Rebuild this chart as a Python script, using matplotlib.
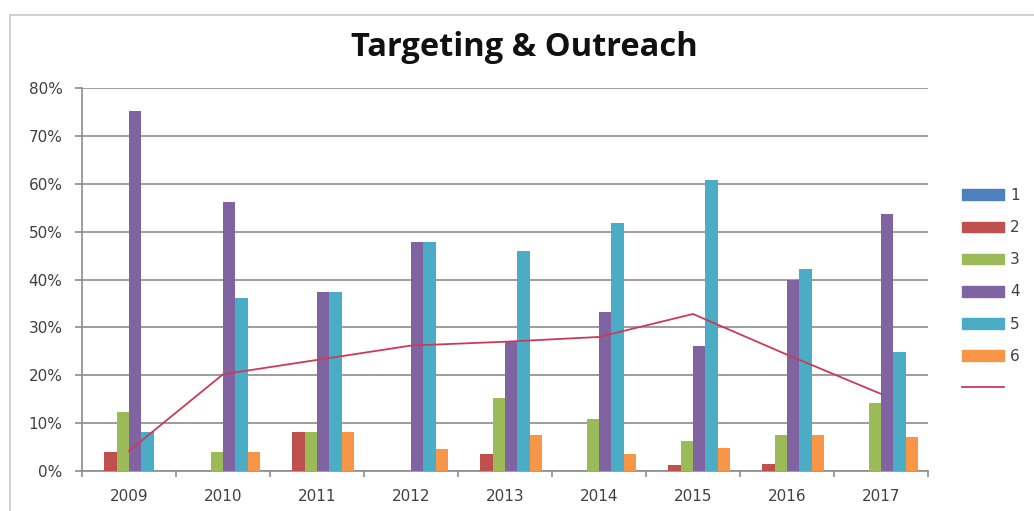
import matplotlib
matplotlib.use("Agg")
import matplotlib.pyplot as plt
import numpy as np
from matplotlib.patches import Rectangle
from matplotlib.lines import Line2D
from matplotlib.ticker import FuncFormatter, MultipleLocator

years = ["2009", "2010", "2011", "2012", "2013", "2014", "2015", "2016", "2017"]
series_names = ["1", "2", "3", "4", "5", "6"]
s1 = [0, 0, 0, 0, 0, 0, 0, 0, 0]
s2 = [4.0, 0, 8.2, 0, 3.6, 0, 1.3, 1.5, 0]
s3 = [12.3, 4.0, 8.2, 0, 15.3, 10.8, 6.3, 7.5, 14.2]
s4 = [75.1, 56.1, 37.4, 47.8, 26.9, 33.2, 26.2, 40.0, 53.6]
s5 = [8.2, 36.1, 37.4, 47.8, 46.0, 51.9, 60.7, 42.1, 24.8]
s6 = [0, 4.0, 8.2, 4.5, 7.5, 3.5, 4.7, 7.5, 7.0]
line_vals = [4.2, 20.2, 23.2, 26.2, 27.0, 28.0, 32.8, 24.3, 16.1]

colors = ["#4F81BD", "#C0504D", "#9BBB59", "#8064A2", "#4BACC6", "#F79646"]
line_color = "#CC3B55"

plt.rcParams['font.family'] = ['DejaVu Sans']

fig = plt.figure(figsize=(10.34, 5.11), dpi=100)
ax = fig.add_axes([82/1034, 1-471/511, (928-82)/1034, (471-88)/511])

# chart frame (left and top edges visible; right/bottom run off the image)
fig.patches.append(Rectangle((10/1034, -0.01), 1.05, 1-15/511+0.01,
                             transform=fig.transFigure, fill=False,
                             edgecolor="#C8C8C8", linewidth=1.2))

x = np.arange(len(years))
data = [s1, s2, s3, s4, s5, s6]
w = 0.131
for i, (vals, c) in enumerate(zip(data, colors)):
    off = (i - 2.5) * w
    ax.bar(x + off, np.array(vals) / 100, width=w, color=c, zorder=3,
           edgecolor="none")

ax.plot(x, np.array(line_vals) / 100, color=line_color, linewidth=1.3, zorder=4)

ax.set_xlim(-0.5, len(years) - 0.5)
ax.set_ylim(0, 0.8)
ax.yaxis.set_major_locator(MultipleLocator(0.1))
ax.yaxis.set_major_formatter(FuncFormatter(lambda v, p: f"{int(round(v*100))}%"))
ax.grid(axis="y", color="#8C8C8C", linewidth=1.2, zorder=0)
ax.set_axisbelow(True)

ax.set_xticks(np.arange(-0.5, len(years), 1.0))
ax.set_xticklabels([])
ax.set_xticks(x, minor=True)
ax.set_xticklabels(years, minor=True)
ax.tick_params(axis="x", which="major", length=4, color="#8C8C8C", width=1.2, direction="out")
ax.tick_params(axis="x", which="minor", length=0, pad=13, labelsize=11, labelcolor="#404040")
ax.tick_params(axis="y", length=5, color="#8C8C8C", width=1.2, pad=9, labelsize=11, labelcolor="#404040")

for s in ["top", "right"]:
    ax.spines[s].set_visible(False)
ax.spines["left"].set_color("#8C8C8C")
ax.spines["bottom"].set_color("#8C8C8C")
ax.spines["left"].set_linewidth(1.2)
ax.spines["bottom"].set_linewidth(1.2)

fig.text(524/1034, 1-48/511, "Targeting & Outreach", ha="center", va="center",
         fontsize=23.5, fontweight="bold", color="#111111", family="Open Sans")

handles = [Rectangle((0, 0), 1, 1, color=c) for c in colors]
handles.append(Line2D([0], [0], color=line_color, linewidth=1.3))
labels = series_names + [""]
leg = fig.legend(handles, labels, loc="center left", bbox_to_anchor=(956/1034, 1-292/511),
                 frameon=False, fontsize=11, handlelength=2.75, handleheight=0.7,
                 labelspacing=1.12, handletextpad=0.4, borderaxespad=0)
for t in leg.get_texts():
    t.set_color("#404040")

fig.savefig("out.png", dpi=100)
